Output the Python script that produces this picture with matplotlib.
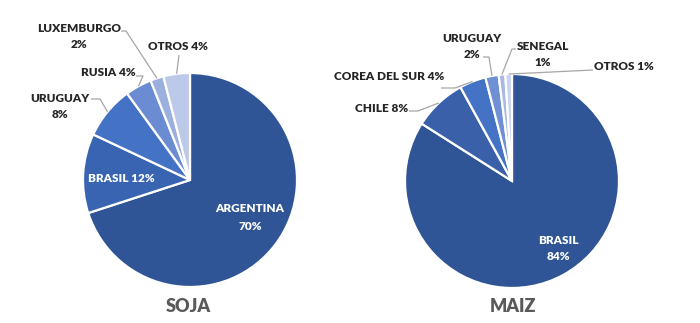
import numpy as np
import matplotlib
matplotlib.use("Agg")
import matplotlib.pyplot as plt

# Export shares by destination
soja_labels = ["ARGENTINA", "BRASIL", "URUGUAY", "RUSIA", "LUXEMBURGO", "OTROS"]
soja_values = [70, 12, 8, 4, 2, 4]
soja_colors = ["#2F5597", "#3864B2", "#4472C4", "#6B8CD2", "#9CB0DF", "#BDC9E8"]

maiz_labels = ["BRASIL", "CHILE", "COREA DEL SUR", "URUGUAY", "SENEGAL", "OTROS"]
maiz_values = [84, 8, 4, 2, 1, 1]
maiz_colors = ["#2F5597", "#3A60AA", "#4472C4", "#7090D4", "#A8B9E2", "#C8D3EE"]

W, H = 700, 323
FONT = ["Lato", "DejaVu Sans"]
LABEL_COLOR = "#262626"
LINE_COLOR = "#A6A6A6"


def P(x, y):
    """Pixel coordinates (origin top-left) to axes data coordinates."""
    return x, H - y


fig = plt.figure(figsize=(W / 100, H / 100), dpi=100)
ax = fig.add_axes([0, 0, 1, 1])


def draw_pie(values, colors, center, radius):
    wedges, _ = ax.pie(values, colors=colors, startangle=90, counterclock=False,
                       center=P(*center), radius=radius,
                       wedgeprops=dict(edgecolor="white", linewidth=1.6))
    anchors = []
    cx, cy = P(*center)
    for w in wedges:
        mid = np.deg2rad((w.theta1 + w.theta2) / 2)
        anchors.append((cx + radius * np.cos(mid), cy + radius * np.sin(mid)))
    return anchors


def text(x, y, s, color=LABEL_COLOR, size=8.5, ha="center"):
    ax.text(*P(x, y), s, ha=ha, va="center", color=color, fontsize=size,
            fontweight="heavy", family=FONT)


def leader(points, anchor):
    pts = [P(*p) for p in points] + [anchor]
    xs, ys = zip(*pts)
    ax.plot(xs, ys, color=LINE_COLOR, linewidth=0.9, solid_capstyle="butt")


# ---- SOJA ----
sa = draw_pie(soja_values, soja_colors, (190, 180), 107)
text(250, 209, f"{soja_labels[0]}", color="white")
text(250, 226, f"{soja_values[0]}%", color="white")
text(121, 179, f"{soja_labels[1]} {soja_values[1]}%", color="white")
text(60, 99, soja_labels[2])
text(60, 115, f"{soja_values[2]}%")
leader([(91, 99), (100, 99)], sa[2])
text(108, 73, f"{soja_labels[3]} {soja_values[3]}%")
leader([(136, 76), (143, 76)], sa[3])
text(79, 28, soja_labels[4])
text(79, 44, f"{soja_values[4]}%")
leader([(121, 31), (126, 31)], sa[4])
text(178, 47, f"{soja_labels[5]} {soja_values[5]}%")
leader([(179, 55)], sa[5])
ax.text(*P(188, 307), "SOJA", ha="center", va="center", color="#595959",
        fontsize=13, fontweight="heavy", family=FONT)

# ---- MAIZ ----
ma = draw_pie(maiz_values, maiz_colors, (512, 181), 107)
text(558, 240, maiz_labels[0], color="white")
text(558, 257, f"{maiz_values[0]}%", color="white")
text(382, 108, f"{maiz_labels[1]} {maiz_values[1]}%")
leader([(409, 111), (418, 111)], ma[1])
text(389, 76, f"{maiz_labels[2]} {maiz_values[2]}%")
leader([(441, 88), (455, 88)], ma[2])
text(472, 38, maiz_labels[3])
text(472, 55, f"{maiz_values[3]}%")
leader([(483, 57), (489, 57)], ma[3])
text(543, 46, maiz_labels[4])
text(543, 63, f"{maiz_values[4]}%")
leader([(516, 49), (512, 49)], ma[4])
text(624, 67, f"{maiz_labels[5]} {maiz_values[5]}%")
leader([(593, 70)], ma[5])
ax.text(*P(513, 307), "MAIZ", ha="center", va="center", color="#595959",
        fontsize=13, fontweight="heavy", family=FONT)

ax.set_xlim(0, W)
ax.set_ylim(0, H)
ax.set_aspect("equal")
ax.axis("off")

fig.savefig("out.png", dpi=100, facecolor="white")
